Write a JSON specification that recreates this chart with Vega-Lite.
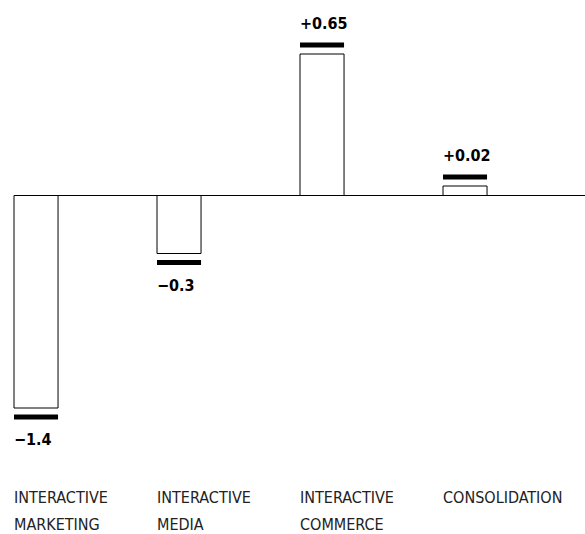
{
  "$schema": "https://vega.github.io/schema/vega-lite/v6.json",
  "width": 571,
  "height": 480,
  "autosize": {"type": "none"},
  "padding": {"left": 14, "top": 0, "right": 0, "bottom": 54},
  "background": "white",
  "config": {"view": {"stroke": null}},
  "data": {
    "values": [
      {"category": "INTERACTIVE MARKETING", "value": -1.4, "label": "−1.4"},
      {"category": "INTERACTIVE MEDIA", "value": -0.3, "label": "−0.3"},
      {"category": "INTERACTIVE COMMERCE", "value": 0.65, "label": "+0.65"},
      {"category": "CONSOLIDATION", "value": 0.02, "label": "+0.02"}
    ]
  },
  "layer": [
    {
      "mark": {"type": "bar", "fill": "white", "stroke": "black", "strokeWidth": 1},
      "encoding": {
        "x": {
          "field": "category",
          "type": "nominal",
          "sort": null,
          "scale": {"paddingInner": 0.692, "paddingOuter": 0.3425, "align": 0},
          "axis": {
            "orient": "bottom",
            "title": null,
            "domain": false,
            "ticks": false,
            "grid": false,
            "labelAngle": 0,
            "labelAlign": "left",
            "labelBaseline": "top",
            "labelOffset": -22,
            "labelExpr": "split(datum.label, ' ')",
            "labelFont": "DejaVu Sans Condensed",
            "labelFontSize": 16,
            "labelLineHeight": 27,
            "labelPadding": 9,
            "labelColor": "#222222",
            "labelLimit": 0,
            "labelOverlap": false
          }
        },
        "y": {
          "field": "value",
          "type": "quantitative",
          "scale": {
            "domain": [-1.4, -0.3, 0, 0.02, 0.65],
            "range": [408, 253.5, 195.5, 186, 54],
            "zero": false,
            "nice": false
          },
          "axis": null
        },
        "y2": {"datum": 0}
      }
    },
    {
      "mark": {
        "type": "tick",
        "thickness": 5,
        "size": {"expr": "bandwidth('x')"},
        "color": "black",
        "opacity": 1,
        "yOffset": {"expr": "datum.value < 0 ? 9 : -9"}
      },
      "encoding": {
        "x": {"field": "category", "type": "nominal", "sort": null},
        "y": {"field": "value", "type": "quantitative"}
      }
    },
    {
      "mark": {
        "type": "text",
        "align": "left",
        "baseline": "middle",
        "font": "DejaVu Sans Condensed",
        "fontWeight": "bold",
        "fontSize": 16,
        "color": "black",
        "yOffset": {"expr": "datum.value < 0 ? 32 : -30"}
      },
      "encoding": {
        "x": {"field": "category", "type": "nominal", "sort": null, "bandPosition": 0},
        "y": {"field": "value", "type": "quantitative"},
        "text": {"field": "label"}
      }
    },
    {
      "data": {"values": [{"base": 0}]},
      "mark": {"type": "rule", "color": "black", "strokeWidth": 1},
      "encoding": {"y": {"field": "base", "type": "quantitative"}}
    }
  ]
}
